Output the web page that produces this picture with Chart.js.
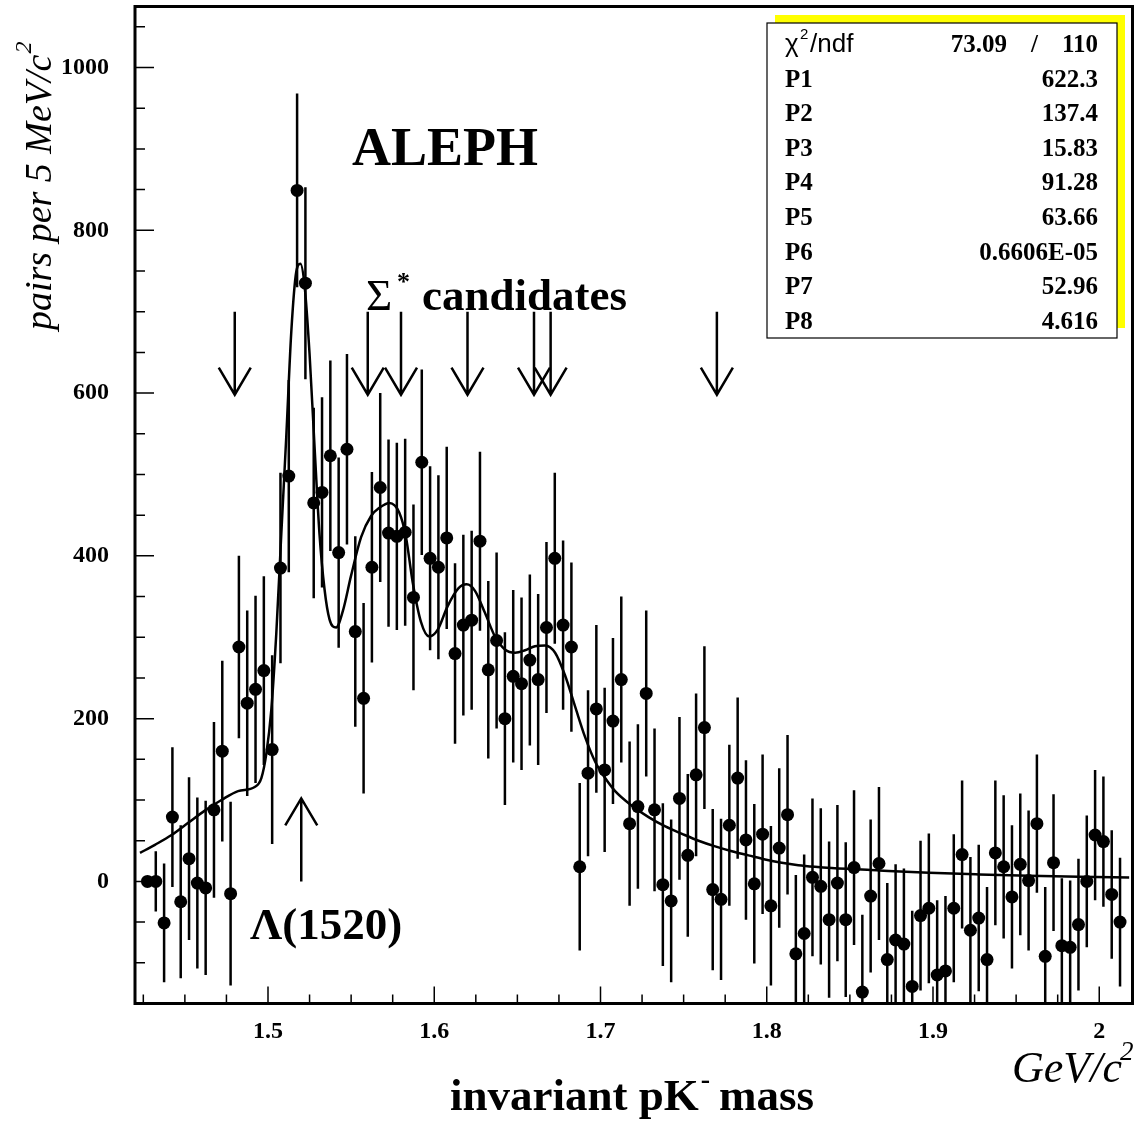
<!DOCTYPE html>
<html>
<head>
<meta charset="utf-8">
<script src="https://cdn.jsdelivr.net/npm/chart.js@4.4.1/dist/chart.umd.min.js"></script>
<style>
  body { margin: 0; background: #fff; }
  #wrap { width: 1139px; height: 1122px; }
</style>
</head>
<body>
<div id="wrap"><canvas id="myChart" width="1139" height="1122"></canvas></div>
<script>
// histogram: 5 MeV bins, first bin centre 1.4275 GeV
var binStart = 1.4275;
var binWidth = 0.005;

// background subtracted pairs per bin
var counts = [
  0, 0, -51, 79, -25, 28, -2, -8, 88, 160,
  -15, 288, 219, 236, 259, 162, 385, 498, 849, 735,
  465, 478, 523, 404, 531, 307, 225, 386, 484, 428,
  424, 429, 349, 515, 397, 386, 422, 280, 315, 321,
  418, 260, 296, 200, 252, 243, 272, 248, 312, 397,
  315, 288, 18, 133, 212, 137, 197, 248, 71, 92,
  231, 88, -4, -24, 102, 32, 131, 189, -10, -22,
  69, 127, 51, -3, 58, -30, 41, 82, -89, -64,
  5, -6, -47, -2, -47, 17, -136, -18, 22, -96,
  -72, -77, -129, -42, -33, -115, -110, -33, 33, -60,
  -45, -96, 35, 18, -19, 21, 1, 71, -92, 23,
  -79, -81, -53, 0, 57, 49, -16, -50
];

var errors = [
  0, 37, 73, 86, 94, 100, 105, 107, 108, 111,
  113, 112, 114, 115, 116, 116, 117, 118, 119, 118,
  117, 117, 117, 117, 117, 117, 117, 117, 116, 115,
  115, 115, 114, 114, 113, 113, 112, 111, 111, 110,
  110, 109, 108, 106, 106, 106, 105, 105, 105, 105,
  104, 104, 103, 102, 103, 101, 102, 102, 101, 101,
  102, 100, 100, 100, 100, 100, 100, 100, 99, 99,
  99, 99, 98, 98, 98, 98, 98, 98, 97, 97,
  97, 96, 96, 96, 95, 95, 95, 94, 94, 94,
  93, 93, 93, 92, 92, 92, 92, 91, 91, 90,
  90, 89, 89, 88, 88, 87, 86, 85, 85, 84,
  83, 82, 81, 81, 80, 80, 79, 79
];

// fit curve
var fitMass = [
  1.423, 1.432, 1.442, 1.452, 1.462, 1.472, 1.482, 1.492, 1.496, 1.499,
  1.502, 1.505, 1.508, 1.511, 1.514, 1.517, 1.5195, 1.522, 1.525, 1.528,
  1.531, 1.534, 1.537, 1.541, 1.545, 1.550, 1.556, 1.562, 1.567, 1.573,
  1.579, 1.583, 1.587, 1.592, 1.597, 1.602, 1.608, 1.6145, 1.6195, 1.6245,
  1.6305, 1.6365, 1.6425, 1.6486, 1.6546, 1.6606, 1.6667, 1.6727, 1.6787, 1.6847,
  1.6908, 1.6968, 1.7028, 1.7088, 1.7189, 1.7289, 1.739, 1.749, 1.759, 1.769,
  1.779, 1.789, 1.799, 1.809, 1.819, 1.829, 1.839, 1.8675, 1.8976, 1.9277,
  1.9578, 1.988, 2.018
];
var fitValue = [
  35, 45, 57, 72, 87, 100, 111, 116, 127, 157,
  211, 305, 427, 547, 675, 749, 759, 732, 648, 534,
  426, 359, 322, 312, 332, 376, 423, 449, 459, 465,
  453, 423, 368, 319, 301, 309, 338, 360, 365, 357,
  330, 301, 285, 281, 284, 289, 290, 281, 253, 215,
  177, 147, 127, 111, 93, 79, 67.5, 58.5, 50, 43,
  37, 32, 27, 23, 20, 18, 16.5, 13.5, 10.6, 8.6,
  7, 5.7, 4.9
];

// arrows marking the candidate states
var sigmaArrowMass = [1.48, 1.56, 1.58, 1.62, 1.66, 1.67, 1.77];
var sigmaArrowFrom = 700;
var sigmaArrowTo = 598;
var lambdaArrowMass = 1.52;
var lambdaArrowFrom = 0;
var lambdaArrowTo = 102;

// axis ticks
var xTickValues = [1.5, 1.6, 1.7, 1.8, 1.9, 2.0];
var xTickLabels = ["1.5", "1.6", "1.7", "1.8", "1.9", "2"];
var yTickValues = [0, 200, 400, 600, 800, 1000];
var yTickLabels = ["0", "200", "400", "600", "800", "1000"];

// fit statistics box
var statNames = ["P1", "P2", "P3", "P4", "P5", "P6", "P7", "P8"];
var statValues = ["622.3", "137.4", "15.83", "91.28", "63.66", "0.6606E-05", "52.96", "4.616"];
var chi2 = "73.09";
var ndf = "110";

var points = counts.map(function (c, i) {
  return { x: binStart + i * binWidth, y: c };
});
var fitPoints = fitMass.map(function (m, i) {
  return { x: m, y: fitValue[i] };
});

var SERIF = '"Liberation Serif", "Times New Roman", serif';
var SANS = '"Liberation Sans", sans-serif';

function arrow(ctx, x, y1, y2) {
  // open V head at y2
  var dir = y2 > y1 ? 1 : -1;
  ctx.beginPath();
  ctx.moveTo(x, y1);
  ctx.lineTo(x, y2);
  ctx.moveTo(x - 16, y2 - dir * 27);
  ctx.lineTo(x, y2);
  ctx.lineTo(x + 16, y2 - dir * 27);
  ctx.stroke();
}

var physicsPlot = {
  id: "physicsPlot",
  beforeDatasetsDraw: function (chart) {
    var ctx = chart.ctx, a = chart.chartArea;
    var xs = chart.scales.x, ys = chart.scales.y;
    ctx.save();
    ctx.beginPath();
    ctx.rect(a.left, a.top, a.right - a.left, a.bottom - a.top);
    ctx.clip();
    ctx.strokeStyle = "#000";
    ctx.lineWidth = 2.5;
    points.forEach(function (p, i) {
      if (!errors[i]) return;
      var px = xs.getPixelForValue(p.x);
      ctx.beginPath();
      ctx.moveTo(px, ys.getPixelForValue(p.y - errors[i]));
      ctx.lineTo(px, ys.getPixelForValue(p.y + errors[i]));
      ctx.stroke();
    });
    ctx.restore();
  },
  afterDatasetsDraw: function (chart) {
    var ctx = chart.ctx, a = chart.chartArea;
    var xs = chart.scales.x, ys = chart.scales.y;
    ctx.save();
    ctx.strokeStyle = "#000";
    ctx.fillStyle = "#000";

    // arrows
    ctx.lineWidth = 2.5;
    sigmaArrowMass.forEach(function (m) {
      arrow(ctx, xs.getPixelForValue(m), ys.getPixelForValue(sigmaArrowFrom), ys.getPixelForValue(sigmaArrowTo));
    });
    arrow(ctx, xs.getPixelForValue(lambdaArrowMass), ys.getPixelForValue(lambdaArrowFrom), ys.getPixelForValue(lambdaArrowTo));

    // ticks
    ctx.lineWidth = 1.5;
    ctx.beginPath();
    for (var v = -150; v <= 1050; v += 50) {
      var py = ys.getPixelForValue(v);
      ctx.moveTo(a.left, py);
      ctx.lineTo(a.left + (v % 200 === 0 ? 19 : 10), py);
    }
    for (var k = 0; k <= 23; k++) {
      var m = 1.425 + k * 0.025;
      var px = xs.getPixelForValue(m);
      var major = k % 4 === 3;
      ctx.moveTo(px, a.bottom);
      ctx.lineTo(px, a.bottom - (major ? 17 : 9));
    }
    ctx.stroke();

    // frame
    ctx.lineWidth = 3;
    ctx.strokeRect(a.left, a.top, a.right - a.left, a.bottom - a.top);

    // tick labels
    ctx.font = "bold 24px " + SERIF;
    ctx.textAlign = "right";
    ctx.textBaseline = "middle";
    yTickValues.forEach(function (v, i) {
      ctx.fillText(yTickLabels[i], 109, ys.getPixelForValue(v));
    });
    ctx.textAlign = "center";
    ctx.textBaseline = "alphabetic";
    xTickValues.forEach(function (v, i) {
      ctx.fillText(xTickLabels[i], xs.getPixelForValue(v), 1038);
    });

    // annotations
    ctx.textAlign = "left";
    ctx.font = "bold 54px " + SERIF;
    ctx.fillText("ALEPH", 352, 165);
    ctx.font = "45px " + SERIF;
    ctx.fillText("\u03A3", 366, 310);
    ctx.font = "bold 26px " + SERIF;
    ctx.fillText("*", 397, 290);
    ctx.font = "bold 45px " + SERIF;
    ctx.fillText("candidates", 422, 310);
    ctx.font = "bold 45px " + SERIF;
    ctx.fillText("\u039B(1520)", 250, 939);

    // axis titles
    ctx.font = "bold 45px " + SERIF;
    var t1 = "invariant pK";
    ctx.fillText(t1, 450, 1110);
    var w1 = ctx.measureText(t1).width;
    ctx.font = "bold 28px " + SERIF;
    ctx.fillText("-", w1 + 452, 1088);
    ctx.font = "bold 45px " + SERIF;
    ctx.fillText(" mass", w1 + 459, 1110);

    ctx.font = "italic 44px " + SERIF;
    ctx.textAlign = "right";
    ctx.fillText("GeV/c", 1122, 1082);
    ctx.textAlign = "left";
    ctx.font = "italic 27px " + SERIF;
    ctx.fillText("2", 1120, 1060);

    ctx.save();
    ctx.translate(51, 330);
    ctx.rotate(-Math.PI / 2);
    ctx.font = "italic 38px " + SERIF;
    var t2 = "pairs per 5 MeV/c";
    ctx.fillText(t2, 0, 0);
    var w2 = ctx.measureText(t2).width;
    ctx.font = "italic 24px " + SERIF;
    ctx.fillText("2", w2 + 1, -20);
    ctx.restore();

    // stats box with yellow shadow
    ctx.fillStyle = "#ffff00";
    ctx.fillRect(775, 15, 350, 313);
    ctx.fillStyle = "#fff";
    ctx.fillRect(767, 23, 350, 315);
    ctx.lineWidth = 1.2;
    ctx.strokeRect(767, 23, 350, 315);
    ctx.fillStyle = "#000";
    ctx.font = "26px " + SANS;
    ctx.fillText("\u03C7", 785, 52);
    ctx.font = "15px " + SANS;
    ctx.fillText("2", 800, 39);
    ctx.font = "26px " + SANS;
    ctx.fillText("/ndf", 810, 52);
    ctx.font = "bold 25px " + SERIF;
    ctx.textAlign = "right";
    ctx.fillText(chi2, 1007, 52);
    ctx.fillText("/", 1038, 52);
    ctx.fillText(ndf, 1098, 52);
    statNames.forEach(function (n, i) {
      var by = 52 + (i + 1) * 34.6;
      ctx.textAlign = "left";
      ctx.fillText(n, 785, by);
      ctx.textAlign = "right";
      ctx.fillText(statValues[i], 1098, by);
    });
    ctx.restore();
  }
};

var ctx = document.getElementById("myChart").getContext("2d");
var chart = new Chart(ctx, {
  type: "scatter",
  data: {
    datasets: [
      {
        label: "data",
        data: points,
        pointRadius: 6.5,
        pointHoverRadius: 6.5,
        backgroundColor: "#000",
        borderWidth: 0,
        order: 1
      },
      {
        label: "fit",
        type: "line",
        data: fitPoints,
        borderColor: "#000",
        borderWidth: 2.5,
        pointRadius: 0,
        cubicInterpolationMode: "monotone",
        fill: false,
        order: 2
      }
    ]
  },
  options: {
    responsive: false,
    animation: false,
    layout: { padding: { left: 135, top: 6, right: 5, bottom: 118.5 } },
    scales: {
      x: { type: "linear", min: 1.42, max: 2.02, display: false },
      y: { min: -150, max: 1075, display: false }
    },
    plugins: {
      legend: { display: false },
      tooltip: { enabled: false }
    }
  },
  plugins: [physicsPlot]
});
</script>
</body>
</html>
